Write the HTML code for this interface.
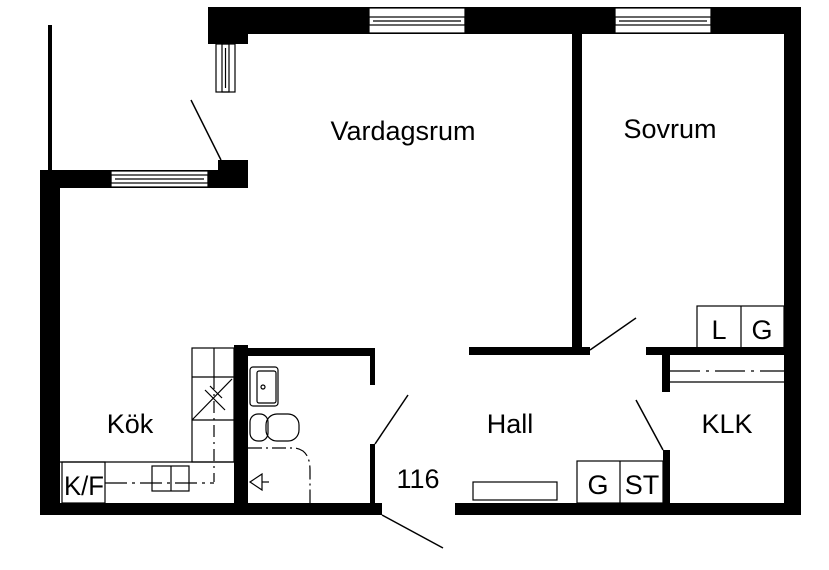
<!DOCTYPE html>
<html><head><meta charset="utf-8"><style>
html,body{margin:0;padding:0;background:#fff;width:829px;height:570px;overflow:hidden}
svg{display:block}
text{font-family:"Liberation Sans",sans-serif;fill:#000}
</style></head><body>
<svg width="829" height="570" viewBox="0 0 829 570" xmlns="http://www.w3.org/2000/svg">
<g fill="#000">
<rect x="208" y="7" width="593" height="27"/>
<rect x="208" y="7" width="40" height="37"/>
<rect x="784" y="7" width="17" height="508"/>
<rect x="40" y="503" width="342" height="12"/>
<rect x="455" y="503" width="346" height="12"/>
<rect x="40" y="170" width="20" height="345"/>
<rect x="40" y="170" width="208" height="18"/>
<rect x="218" y="160" width="30" height="28"/>
<rect x="48" y="25" width="4" height="145"/>
<rect x="572" y="34" width="10" height="321"/>
<rect x="469" y="347" width="121" height="8"/>
<rect x="646" y="347" width="138" height="8"/>
<rect x="662" y="355" width="8" height="37"/>
<rect x="663" y="450" width="7" height="53"/>
<rect x="234" y="345" width="14" height="158"/>
<rect x="248" y="348" width="127" height="8"/>
<rect x="370" y="348" width="5" height="37"/>
<rect x="370" y="444" width="5" height="59"/>
</g>
<g fill="#fff" stroke="#000" stroke-width="1.2">
<rect x="369" y="8" width="96" height="25"/>
<rect x="615" y="8" width="96" height="25"/>
<rect x="111" y="171" width="97" height="16"/>
<rect x="216" y="44" width="19" height="48"/>
</g>
<g stroke="#000" stroke-width="1.2" fill="none">
<rect x="369" y="17" width="96" height="8"/><line x1="373" y1="21" x2="461" y2="21"/>
<rect x="615" y="17" width="96" height="8"/><line x1="619" y1="21" x2="707" y2="21"/>
<rect x="111" y="175" width="97" height="8"/><line x1="115" y1="179" x2="204" y2="179"/>
<rect x="222" y="44" width="7" height="48"/><line x1="225.5" y1="48" x2="225.5" y2="88"/>
<line x1="191" y1="100" x2="221" y2="160" stroke-width="1.5"/>
<line x1="375" y1="444" x2="408" y2="395" stroke-width="1.5"/>
<line x1="382" y1="515" x2="443" y2="548" stroke-width="1.5"/>
<line x1="590" y1="350" x2="636" y2="318" stroke-width="1.5"/>
<line x1="636" y1="400" x2="663" y2="450" stroke-width="1.5"/>
<rect x="697" y="306" width="87" height="42"/><line x1="741" y1="306" x2="741" y2="348"/>
<line x1="670" y1="371" x2="784" y2="371" stroke-dasharray="30,6,3,6"/>
<line x1="670" y1="382" x2="784" y2="382"/>
<rect x="577" y="461" width="86" height="42"/><line x1="620" y1="461" x2="620" y2="503"/>
<rect x="473" y="482" width="84" height="18"/>
<rect x="192" y="348" width="42" height="114"/>
<line x1="192" y1="377" x2="234" y2="377"/>
<line x1="192" y1="420" x2="234" y2="420"/>
<line x1="214" y1="348" x2="214" y2="377"/>
<line x1="192" y1="420" x2="232" y2="379"/>
<line x1="205" y1="390" x2="225" y2="410"/><line x1="210" y1="386" x2="222" y2="398"/>
<line x1="214" y1="377" x2="214" y2="482" stroke-dasharray="12,5,2,5"/>
<line x1="105" y1="483" x2="214" y2="483" stroke-dasharray="22,5,3,5"/>
<line x1="60" y1="462" x2="234" y2="462"/>
<rect x="62" y="462" width="43" height="41"/>
<rect x="152" y="466" width="37" height="25"/><line x1="171" y1="466" x2="171" y2="491"/>
<rect x="250" y="367" width="28" height="39" rx="3"/>
<rect x="257" y="371" width="19" height="32" rx="2"/>
<circle cx="263" cy="387" r="2"/>
<rect x="250" y="414" width="18" height="27" rx="8"/>
<rect x="266" y="414" width="33" height="27" rx="11"/>
<path d="M248 448 H295 Q310 450 310 470 V503" stroke-dasharray="14,4,2,4"/>
<path d="M262 474 L250 482 L262 490 Z"/>
<line x1="262" y1="482" x2="269" y2="482"/>
</g>
<g font-size="27" text-anchor="middle">
<text x="403" y="140">Vardagsrum</text>
<text x="670" y="138">Sovrum</text>
<text x="130" y="433">Kök</text>
<text x="510" y="433">Hall</text>
<text x="727" y="433">KLK</text>
<text x="418" y="488">116</text>
<text x="719" y="339">L</text>
<text x="762" y="339">G</text>
<text x="598" y="494">G</text>
<text x="642" y="494">ST</text>
<text x="84" y="495" textLength="40" lengthAdjust="spacingAndGlyphs">K/F</text>
</g>
</svg>
</body></html>
